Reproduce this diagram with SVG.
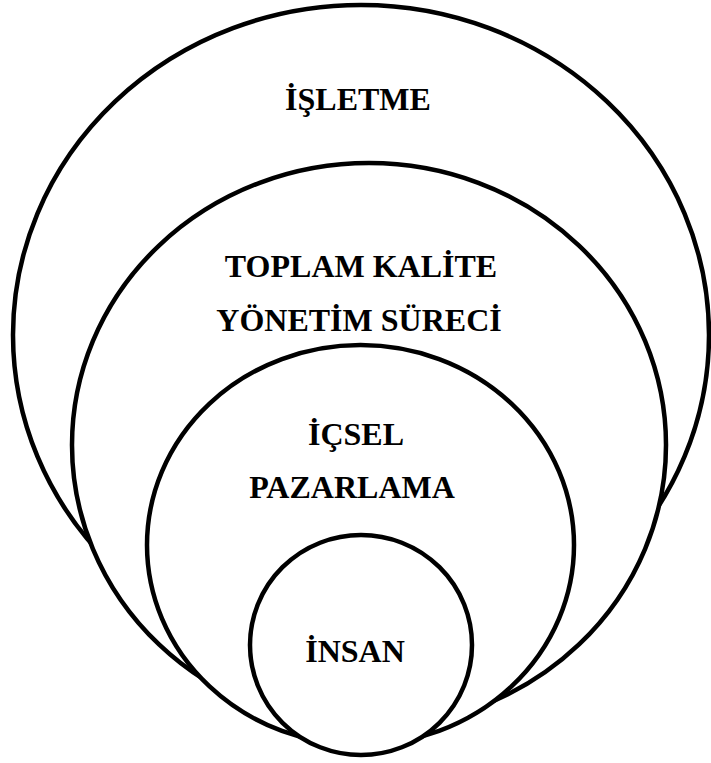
<svg xmlns="http://www.w3.org/2000/svg" width="711" height="763" viewBox="0 0 711 763">
<style>
.ring{fill:#fff;stroke:#000;stroke-width:4.5}
.lbl{font-family:"Liberation Serif","Times New Roman",serif;font-weight:bold;font-size:32px;fill:#000;text-anchor:middle}
</style>
<rect width="711" height="763" fill="#fff"/>
<g id="isletme">
<ellipse class="ring" cx="361" cy="335" rx="348" ry="330"/>
<text class="lbl" x="358" y="110">İŞLETME</text>
</g>
<g id="tky">
<ellipse class="ring" cx="369" cy="445" rx="297" ry="282"/>
<text class="lbl" x="361" y="277">TOPLAM KALİTE</text>
<text class="lbl" x="359" y="331">YÖNETİM SÜRECİ</text>
</g>
<g id="icsel">
<ellipse class="ring" cx="360.5" cy="545" rx="213.5" ry="200"/>
<text class="lbl" x="356" y="445">İÇSEL</text>
<text class="lbl" x="352" y="498">PAZARLAMA</text>
</g>
<g id="insan">
<ellipse class="ring" cx="361" cy="645" rx="111" ry="110"/>
<text class="lbl" x="355" y="662">İNSAN</text>
</g>
<g id="connectors"></g>
</svg>
